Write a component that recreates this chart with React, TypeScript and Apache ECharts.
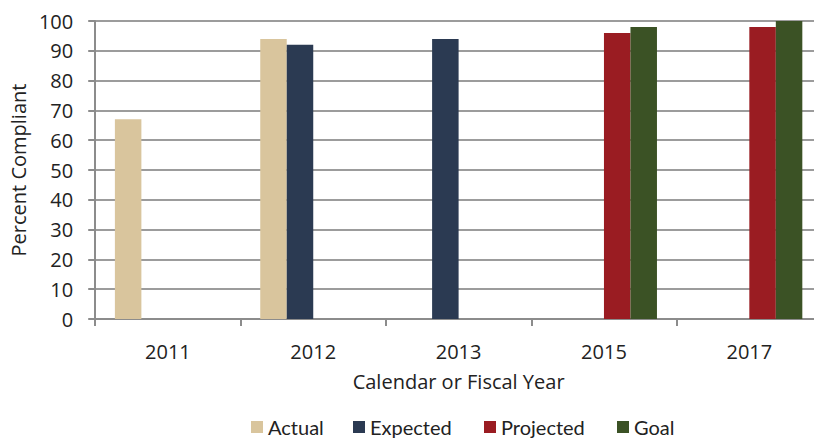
import React, { useEffect, useRef } from "react";
import * as echarts from "echarts";

const categories = ["2011", "2012", "2013", "2015", "2017"];
const actual = [67, 94, null, null, null];
const expected = [null, 92, 94, null, null];
const projected = [null, null, null, 96, 98];
const goal = [null, null, null, 98, 100];
const seriesNames = ["Actual", "Expected", "Projected", "Goal"];
const colors = ["#D9C59D", "#2B3A52", "#9A1C22", "#3B5225"];
const legendLeft = [251, 353, 484, 617];

const FONT = "'Open Sans', sans-serif";
const LFONT = "Lato, sans-serif";

export default function App() {
  const ref = useRef<HTMLDivElement>(null);
  useEffect(() => {
    if (!ref.current) return;
    const chart = echarts.init(ref.current, null, { renderer: "svg" });
    const data = [actual, expected, projected, goal];
    chart.setOption({
      animation: false,
      textStyle: { fontFamily: FONT },
      grid: { left: 95, right: 0, top: 21, bottom: 119, containLabel: false },
      legend: seriesNames.map((name, i) => ({
        left: legendLeft[i],
        top: 412,
        padding: [5, 0, 0, 0],
        itemWidth: 12,
        itemHeight: 12,
        icon: "rect",
        textStyle: { fontSize: 20, color: "#222", fontFamily: LFONT },
        data: [name],
      })),
      xAxis: {
        type: "category",
        data: categories,
        name: "Calendar or Fiscal Year",
        nameLocation: "middle",
        nameGap: 52,
        nameTextStyle: { fontSize: 20, color: "#222", fontFamily: FONT },
        axisLine: { lineStyle: { color: "#8c8c8c", width: 2 } },
        axisTick: { show: true, length: 7, lineStyle: { color: "#8c8c8c", width: 2 } },
        axisLabel: { fontSize: 20, color: "#222", margin: 22, fontFamily: FONT },
      },
      yAxis: {
        type: "value",
        min: 0,
        max: 100,
        interval: 10,
        name: "Percent Compliant",
        nameLocation: "middle",
        nameRotate: 90,
        nameGap: 64,
        nameTextStyle: { fontSize: 20, color: "#222", fontFamily: FONT },
        axisLine: { show: true, lineStyle: { color: "#8c8c8c", width: 2 } },
        axisTick: { show: true, length: 7, lineStyle: { color: "#8c8c8c", width: 2 } },
        axisLabel: { fontSize: 20, color: "#222", margin: 22, fontFamily: FONT },
        splitLine: { show: true, lineStyle: { color: "#9c9c9c", width: 2 } },
      },
      series: seriesNames.map((name, i) => ({
        name,
        type: "bar",
        data: data[i],
        barWidth: 26.5,
        barGap: "0%",
        itemStyle: { color: colors[i] },
      })),
    });
    return () => chart.dispose();
  }, []);
  return (
    <div
      style={{
        position: "fixed",
        left: 0,
        top: 0,
        width: 814,
        height: 438,
        overflow: "hidden",
        background: "#fff",
      }}
    >
      <div ref={ref} style={{ width: 822, height: 438 }} />
    </div>
  );
}
